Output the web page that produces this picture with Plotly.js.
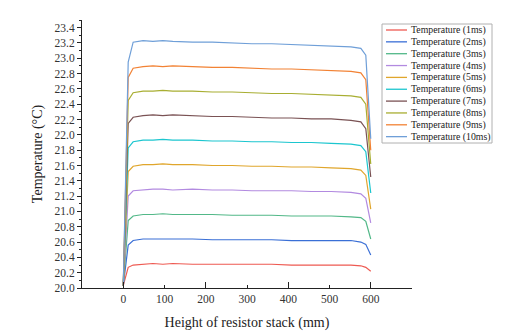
<!DOCTYPE html>
<html>
<head>
<meta charset="utf-8">
<script src="https://cdn.plot.ly/plotly-3.0.1.min.js"></script>
<style>html,body{margin:0;padding:0;background:#fff;}#chart{width:510px;height:336px;}</style>
</head>
<body>
<div id="chart"></div>
<script>
const heights = [0, 12, 24, 48, 72, 96, 120, 168, 216, 264, 312, 360, 408, 456, 504, 552, 576, 588, 600];

const seriesNames = ["Temperature (1ms)","Temperature (2ms)","Temperature (3ms)","Temperature (4ms)","Temperature (5ms)",
  "Temperature (6ms)","Temperature (7ms)","Temperature (8ms)","Temperature (9ms)","Temperature (10ms)"];
const seriesColors = ["#ee5a52","#3a6fd6","#52b888","#b28ae0","#e0a62c","#1cc6cf","#7a5254","#a8ae32","#f28234","#6f9fd8"];

const t1ms  = [20.03, 20.27, 20.30, 20.31, 20.32, 20.31, 20.32, 20.31, 20.31, 20.31, 20.31, 20.31, 20.30, 20.30, 20.30, 20.30, 20.29, 20.27, 20.22];
const t2ms  = [20.03, 20.56, 20.62, 20.64, 20.64, 20.64, 20.64, 20.64, 20.63, 20.63, 20.63, 20.63, 20.62, 20.62, 20.62, 20.62, 20.60, 20.57, 20.43];
const t3ms  = [20.03, 20.88, 20.94, 20.96, 20.96, 20.97, 20.96, 20.96, 20.96, 20.95, 20.95, 20.95, 20.94, 20.94, 20.94, 20.93, 20.92, 20.87, 20.64];
const t4ms  = [20.03, 21.20, 21.27, 21.28, 21.29, 21.29, 21.28, 21.29, 21.28, 21.28, 21.27, 21.27, 21.27, 21.26, 21.26, 21.25, 21.23, 21.17, 20.85];
const t5ms  = [20.03, 21.52, 21.59, 21.61, 21.61, 21.62, 21.61, 21.61, 21.60, 21.60, 21.59, 21.59, 21.58, 21.58, 21.57, 21.56, 21.54, 21.47, 21.03];
const t6ms  = [20.03, 21.83, 21.91, 21.93, 21.93, 21.94, 21.93, 21.93, 21.92, 21.92, 21.91, 21.91, 21.90, 21.90, 21.89, 21.88, 21.86, 21.78, 21.24];
const t7ms  = [20.03, 22.15, 22.23, 22.25, 22.26, 22.25, 22.26, 22.25, 22.24, 22.24, 22.23, 22.22, 22.22, 22.21, 22.21, 22.19, 22.17, 22.08, 21.45];
const t8ms  = [20.03, 22.45, 22.55, 22.57, 22.57, 22.58, 22.57, 22.57, 22.56, 22.56, 22.55, 22.54, 22.54, 22.53, 22.52, 22.51, 22.49, 22.40, 21.62];
const t9ms  = [20.03, 22.75, 22.87, 22.89, 22.90, 22.89, 22.90, 22.89, 22.88, 22.88, 22.87, 22.86, 22.86, 22.85, 22.84, 22.83, 22.81, 22.72, 21.80];
const t10ms = [20.03, 22.95, 23.21, 23.23, 23.22, 23.23, 23.22, 23.21, 23.21, 23.20, 23.19, 23.19, 23.18, 23.17, 23.16, 23.15, 23.13, 23.04, 21.95];

const seriesValues = [t1ms, t2ms, t3ms, t4ms, t5ms, t6ms, t7ms, t8ms, t9ms, t10ms];

const xTickVals = [0, 100, 200, 300, 400, 500, 600];
const xMajorVals = [0, 200, 400, 600];

const M = {l: 82, r: 98, t: 20, b: 48};
const W = 510, H = 336;
const pw = W - M.l - M.r, ph = H - M.t - M.b;
const px2x = p => (p - M.l) / pw;
const py2y = p => (H - M.b - p) / ph;

const serif = "Liberation Serif, Times New Roman, serif";

const traces = seriesValues.map((v, i) => ({
  type: "scatter", mode: "lines", x: heights, y: v, name: seriesNames[i],
  line: {color: seriesColors[i], width: 1.2}, showlegend: false, hoverinfo: "skip"
}));
traces.push({type: "scatter", mode: "lines", x: [null], y: [null], xaxis: "x2", yaxis: "y", showlegend: false, hoverinfo: "skip"});

// custom compact legend
const shapes = [];
const annotations = [];
const lgTop = 30, lgStep = 11.85;
shapes.push({type: "rect", xref: "paper", yref: "paper", x0: px2x(382), x1: px2x(492), y0: py2y(24), y1: py2y(143),
  line: {color: "#b0b0b0", width: 1}, fillcolor: "rgba(0,0,0,0)"});
seriesNames.forEach((n, i) => {
  const yy = lgTop + i * lgStep;
  shapes.push({type: "line", xref: "paper", yref: "paper", x0: px2x(386), x1: px2x(407), y0: py2y(yy), y1: py2y(yy),
    line: {color: seriesColors[i], width: 1.3}});
  annotations.push({xref: "paper", yref: "paper", x: px2x(409), y: py2y(yy), xanchor: "left", yanchor: "middle",
    text: n, showarrow: false, font: {family: serif, size: 9.8, color: "#222"}});
});

const layout = {
  width: W, height: H, margin: M, paper_bgcolor: "#fff", plot_bgcolor: "#fff",
  showlegend: false,
  xaxis: {range: [-100, 700], tickvals: xTickVals, ticktext: xTickVals.map(String), ticks: "inside", ticklen: 3, tickcolor: "#222",
    showline: true, linecolor: "#222", linewidth: 1, showgrid: false, zeroline: false,
    tickfont: {family: serif, size: 11.5, color: "#333"},
    title: {text: "Height of resistor stack (mm)", font: {family: serif, size: 14, color: "#222"}, standoff: 13}, automargin: false},
  xaxis2: {overlaying: "x", anchor: "y", side: "bottom", range: [-100, 700], tickvals: xMajorVals, ticks: "inside", ticklen: 6, tickcolor: "#222",
    showticklabels: false, showline: false, showgrid: false, zeroline: false},
  yaxis: {range: [20, 23.5], dtick: 0.2, tick0: 20, tickformat: ".1f", ticks: "outside", ticklen: 4, tickcolor: "#222",
    minor: {dtick: 0.1, ticks: "outside", ticklen: 2, tickcolor: "#222"},
    showline: true, linecolor: "#222", linewidth: 1, showgrid: false, zeroline: false,
    tickfont: {family: serif, size: 11.5, color: "#333"},
    title: {text: "Temperature (°C)", font: {family: serif, size: 14, color: "#222"}, standoff: 8}, automargin: false},
  shapes: shapes, annotations: annotations
};

Plotly.newPlot("chart", traces, layout, {displayModeBar: false, staticPlot: true});
</script>
</body>
</html>
